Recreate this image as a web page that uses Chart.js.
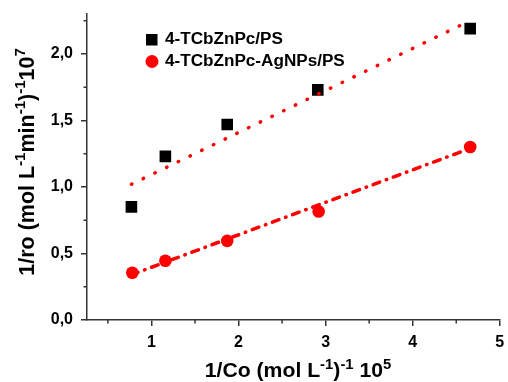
<!DOCTYPE html>
<html>
<head>
<meta charset="utf-8">
<script src="https://cdn.jsdelivr.net/npm/chart.js@4.4.1/dist/chart.umd.min.js"></script>
<style>
  html, body { margin: 0; padding: 0; background: #fff; }
  #wrap { width: 508px; height: 382px; }
</style>
</head>
<body>
<div id="wrap"><canvas id="chart" width="508" height="382"></canvas></div>
<script>
// Data
const blackX = [0.77, 1.16, 1.87, 2.91, 4.66];
const blackY = [0.85, 1.23, 1.47, 1.73, 2.19];
const redX = [0.78, 1.16, 1.87, 2.92, 4.66];
const redY = [0.355, 0.445, 0.595, 0.815, 1.30];

// fitted lines (end points)
const fitX = [0.77, 4.66];
const blackFitY = [1.02, 2.25];
const redFitY = [0.34, 1.29];

const xTicks = [1, 2, 3, 4, 5];
const yTicks = [0, 0.5, 1.0, 1.5, 2.0];
const xMinor = [0.5, 1.5, 2.5, 3.5, 4.5];
const yMinor = [0.25, 0.75, 1.25, 1.75, 2.25];

const legendLabels = ['4-TCbZnPc/PS', '4-TCbZnPc-AgNPs/PS'];

const FONT = '"Liberation Sans", Arial, sans-serif';
const AXIS = '#333';

function toPoints(xs, ys) {
    return xs.map((x, i) => ({ x: x, y: ys[i] }));
}

// draw text with superscript parts, centred on cx
function drawRich(ctx, parts, cx, cy, size) {
    const supSize = Math.round(size * 0.68);
    let w = 0;
    parts.forEach(p => {
        ctx.font = 'bold ' + (p.sup ? supSize : size) + 'px ' + FONT;
        p.w = ctx.measureText(p.t).width;
        w += p.w;
    });
    let x = cx - w / 2;
    ctx.textAlign = 'left';
    ctx.textBaseline = 'alphabetic';
    parts.forEach(p => {
        ctx.font = 'bold ' + (p.sup ? supSize : size) + 'px ' + FONT;
        ctx.fillText(p.t, x, p.sup ? cy - size * 0.4 : cy);
        x += p.w;
    });
}

const extras = {
    id: 'extras',
    afterDraw(chart) {
        const ctx = chart.ctx;
        const xs = chart.scales.x, ys = chart.scales.y;
        const area = chart.chartArea;
        ctx.save();

        // minor ticks
        ctx.strokeStyle = AXIS;
        ctx.lineWidth = 1.5;
        ctx.beginPath();
        xMinor.forEach(v => {
            const px = xs.getPixelForValue(v);
            ctx.moveTo(px, area.bottom);
            ctx.lineTo(px, area.bottom + 3.5);
        });
        yMinor.forEach(v => {
            const py = ys.getPixelForValue(v);
            ctx.moveTo(area.left, py);
            ctx.lineTo(area.left - 3.5, py);
        });
        ctx.stroke();

        // axis titles
        ctx.fillStyle = '#000';
        ctx.save();
        ctx.translate(298, 377);
        ctx.scale(1.06, 1);
        drawRich(ctx, [
            { t: '1/Co (mol L' }, { t: '-1', sup: true }, { t: ')' },
            { t: '-1', sup: true }, { t: ' 10' }, { t: '5', sup: true }
        ], 0, 0, 20);
        ctx.restore();

        ctx.save();
        ctx.translate(34, 162);
        ctx.rotate(-Math.PI / 2);
        drawRich(ctx, [
            { t: '1/ro (mol L' }, { t: '-1', sup: true }, { t: 'min' },
            { t: '-1', sup: true }, { t: ')' }, { t: '-1', sup: true },
            { t: '10' }, { t: '7', sup: true }
        ], 0, 0, 21.5);
        ctx.restore();

        // legend
        ctx.fillStyle = '#000';
        ctx.fillRect(146, 34, 11.5, 11.5);
        ctx.fillStyle = '#ff0000';
        ctx.beginPath();
        ctx.arc(152, 61.5, 6.5, 0, Math.PI * 2);
        ctx.fill();
        ctx.fillStyle = '#000';
        ctx.textAlign = 'left';
        ctx.textBaseline = 'middle';
        ctx.save();
        ctx.translate(165, 0);
        ctx.scale(1.07, 1);
        ctx.font = 'bold 16px ' + FONT;
        ctx.fillText(legendLabels[0], 0, 40);
        ctx.fillText(legendLabels[1], 0, 62);
        ctx.restore();

        ctx.restore();
    }
};

new Chart(document.getElementById('chart'), {
    type: 'scatter',
    data: {
        datasets: [
            {
                label: 'fit1',
                data: toPoints(fitX, blackFitY),
                showLine: true,
                borderColor: '#ff0000',
                borderWidth: 3.5,
                borderDash: [0.5, 12.5],
                borderCapStyle: 'round',
                pointRadius: 0
            },
            {
                label: 'fit2',
                data: toPoints(fitX, redFitY),
                showLine: true,
                borderColor: '#ff0000',
                borderWidth: 3.5,
                borderDash: [7, 7, 0.5, 7],
                borderCapStyle: 'round',
                pointRadius: 0
            },
            {
                label: legendLabels[0],
                data: toPoints(blackX, blackY),
                pointStyle: 'rect',
                pointRadius: 8.2,
                backgroundColor: '#000',
                borderWidth: 0
            },
            {
                label: legendLabels[1],
                data: toPoints(redX, redY),
                pointStyle: 'circle',
                pointRadius: 6.3,
                backgroundColor: '#ff0000',
                borderWidth: 0
            }
        ]
    },
    options: {
        responsive: false,
        animation: false,
        layout: { padding: { top: 14, right: 3, left: 0, bottom: 0 } },
        plugins: {
            legend: { display: false },
            tooltip: { enabled: false }
        },
        scales: {
            x: {
                type: 'linear',
                min: 0.26,
                max: 5.0,
                afterBuildTicks: s => { s.ticks = xTicks.map(v => ({ value: v })); },
                afterFit: s => { s.height = 62; s.paddingLeft = 0; s.paddingRight = 0; },
                grid: { drawOnChartArea: false, drawTicks: true, tickLength: 6, color: AXIS, lineWidth: 1.5 },
                border: { display: true, color: AXIS, width: 1.5 },
                ticks: {
                    padding: 7,
                    maxRotation: 0,
                    color: '#000',
                    font: { family: FONT, size: 16, weight: 'bold' },
                    callback: v => String(v)
                }
            },
            y: {
                type: 'linear',
                min: 0,
                max: 2.3,
                afterBuildTicks: s => { s.ticks = yTicks.map(v => ({ value: v })); },
                afterFit: s => { s.width = 87; s.paddingTop = 0; s.paddingBottom = 0; },
                grid: { drawOnChartArea: false, drawTicks: true, tickLength: 6, color: AXIS, lineWidth: 1.5 },
                border: { display: true, color: AXIS, width: 1.5 },
                ticks: {
                    padding: 8,
                    color: '#000',
                    font: { family: FONT, size: 16, weight: 'bold' },
                    callback: v => v.toFixed(1).replace('.', ',')
                }
            }
        }
    },
    plugins: [extras]
});
</script>
</body>
</html>
